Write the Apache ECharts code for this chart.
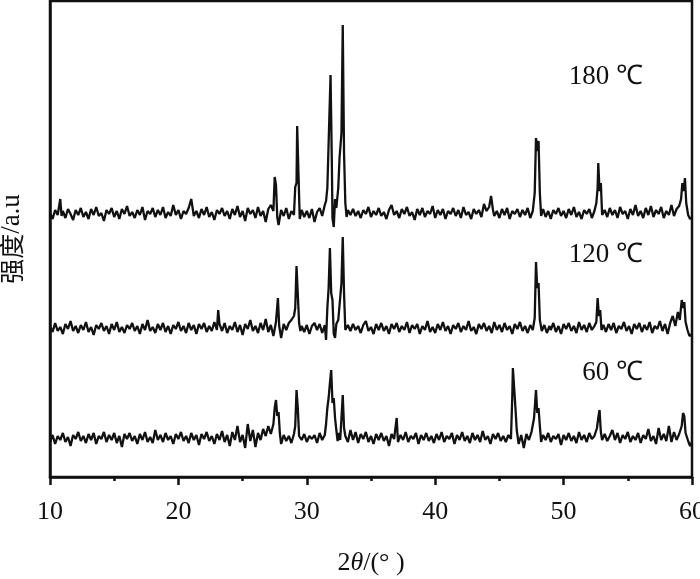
<!DOCTYPE html>
<html>
<head>
<meta charset="utf-8">
<title>XRD</title>
<script src="https://cdn.jsdelivr.net/npm/echarts@6/dist/echarts.min.js"></script>
<style>
  html, body { margin: 0; padding: 0; background: #fff; }
  #xrdChart { width: 700px; height: 579px; }
</style>
</head>
<body>
<div id="xrdChart"></div>
<script>
// 2θ / 强度 (读图估计, 每条曲线相对于自身基线)
var xrd180 = [
  [10.0,0],[10.2,-6],[10.4,3],[10.6,-2],[10.8,14],[10.9,-3],[11.0,2],[11.2,-5],[11.4,4],[11.6,-1],[11.8,-7],
  [12.0,3],[12.2,-2],[12.4,5],[12.6,-4],[12.8,1],[13.0,-6],[13.2,4],[13.4,-2],[13.6,6],[13.8,-3],
  [14.0,0],[14.2,-8],[14.4,3],[14.6,-1],[14.8,5],[15.0,-4],[15.2,2],[15.4,-6],[15.6,4],[15.8,-1],
  [16.0,7],[16.2,-3],[16.4,1],[16.6,-5],[16.8,3],[17.0,-2],[17.2,6],[17.4,-7],[17.6,2],[17.8,-1],
  [18.0,5],[18.2,-4],[18.4,3],[18.6,-2],[18.8,6],[19.0,-5],[19.2,1],[19.4,-3],[19.6,8],[19.8,-2],
  [20.0,3],[20.2,-6],[20.4,2],[20.6,-1],[20.8,5],[21.0,14],[21.2,-3],[21.4,2],[21.6,-5],[21.8,4],
  [22.0,-2],[22.2,6],[22.4,-4],[22.6,1],[22.8,-7],[23.0,3],[23.2,-1],[23.4,5],[23.6,-3],[23.8,2],
  [24.0,-6],[24.2,4],[24.4,-2],[24.6,7],[24.8,-4],[25.0,2],[25.2,-8],[25.4,5],[25.6,-1],[25.8,3],
  [26.0,-5],[26.2,6],[26.4,-3],[26.6,2],[26.8,-9],[27.0,4],[27.2,8],[27.4,2],[27.5,36],[27.6,28],
  [27.7,-4],[27.8,-12],[28.0,3],[28.2,-3],[28.4,5],[28.6,-6],[28.8,2],[29.0,-2],[29.1,26],[29.2,30],
  [29.25,87],[29.35,40],[29.45,-6],[29.6,3],[29.8,-4],[30.0,2],[30.2,-5],[30.4,4],[30.6,-9],[30.8,1],
  [31.0,5],[31.2,-3],[31.4,8],[31.5,12],[31.6,25],[31.7,70],[31.85,138],[31.95,50],[32.0,-5],[32.1,-14],
  [32.2,14],[32.3,5],[32.45,25],[32.55,55],[32.7,80],[32.8,188],[32.9,60],[33.0,10],[33.1,-4],[33.2,3],
  [33.4,-2],[33.6,4],[33.8,-3],[34.0,2],[34.2,-5],[34.4,3],[34.6,-1],[34.8,6],[35.0,-4],[35.2,2],
  [35.4,-2],[35.6,5],[35.8,-3],[36.0,1],[36.2,-6],[36.4,3],[36.6,8],[36.8,-2],[37.0,2],[37.2,-5],
  [37.4,4],[37.6,-1],[37.8,6],[38.0,-3],[38.2,1],[38.4,-7],[38.6,4],[38.8,-2],[39.0,5],[39.2,-4],
  [39.4,2],[39.6,-1],[39.8,7],[40.0,-5],[40.2,3],[40.4,-2],[40.6,4],[40.8,-6],[41.0,2],[41.2,-1],
  [41.4,5],[41.6,-3],[41.8,3],[42.0,-5],[42.2,6],[42.4,-2],[42.6,1],[42.8,-6],[43.0,4],[43.2,-1],
  [43.4,3],[43.6,-4],[43.8,9],[44.0,2],[44.2,6],[44.35,17],[44.5,3],[44.6,-3],[44.8,2],[45.0,-5],
  [45.2,4],[45.4,-2],[45.6,5],[45.8,-6],[46.0,2],[46.2,-1],[46.4,4],[46.6,-4],[46.8,3],[47.0,-2],
  [47.2,5],[47.4,-5],[47.6,2],[47.75,20],[47.85,75],[47.95,62],[48.05,72],[48.15,20],[48.25,-3],[48.4,4],
  [48.6,-4],[48.8,2],[49.0,-6],[49.2,3],[49.4,-1],[49.6,5],[49.8,-3],[50.0,2],[50.2,-5],[50.4,4],
  [50.6,-2],[50.8,6],[51.0,-4],[51.2,1],[51.4,-6],[51.6,3],[51.8,-1],[52.0,4],[52.2,-5],[52.4,2],
  [52.55,10],[52.65,25],[52.7,50],[52.8,22],[52.9,30],[53.0,-2],[53.2,3],[53.4,-4],[53.6,5],[53.8,-2],
  [54.0,3],[54.2,-5],[54.4,6],[54.6,-1],[54.8,2],[55.0,-6],[55.2,4],[55.4,-2],[55.6,8],[55.8,-3],
  [56.0,2],[56.2,-5],[56.4,5],[56.6,-2],[56.8,7],[57.0,-4],[57.2,3],[57.4,-1],[57.6,6],[57.8,-5],
  [58.0,2],[58.2,-2],[58.4,8],[58.6,-3],[58.8,4],[59.0,7],[59.15,14],[59.25,30],[59.35,22],[59.45,35],
  [59.55,10],[59.7,-2],[59.85,-6],[60.0,-4]
];

var xrd120 = [
  [10.0,2],[10.2,-4],[10.4,5],[10.6,-3],[10.8,1],[11.0,-6],[11.2,4],[11.4,-1],[11.6,7],[11.8,-3],
  [12.0,2],[12.2,-5],[12.4,3],[12.6,-2],[12.8,6],[13.0,-4],[13.2,1],[13.4,-7],[13.6,3],[13.8,-1],
  [14.0,5],[14.2,-3],[14.4,2],[14.6,-6],[14.8,4],[15.0,-2],[15.2,6],[15.4,-4],[15.6,1],[15.8,-5],
  [16.0,3],[16.2,-1],[16.4,5],[16.6,-3],[16.8,2],[17.0,-6],[17.2,4],[17.4,-2],[17.6,8],[17.8,-3],
  [18.0,1],[18.2,-5],[18.4,4],[18.6,-2],[18.8,5],[19.0,-4],[19.2,2],[19.4,-6],[19.6,3],[19.8,-1],
  [20.0,6],[20.2,-3],[20.4,2],[20.6,-5],[20.8,5],[21.0,-2],[21.2,3],[21.4,-6],[21.6,4],[21.8,-1],
  [22.0,5],[22.2,-4],[22.4,2],[22.6,-3],[22.8,6],[23.0,-2],[23.1,18],[23.2,4],[23.4,-3],[23.6,5],
  [23.8,-5],[24.0,2],[24.2,-2],[24.4,6],[24.6,-4],[24.8,3],[25.0,-7],[25.2,4],[25.4,-1],[25.6,8],
  [25.8,-3],[26.0,2],[26.2,-5],[26.4,5],[26.6,-2],[26.8,9],[27.0,-4],[27.2,3],[27.4,-8],[27.6,6],
  [27.75,30],[27.85,2],[28.0,-10],[28.2,4],[28.4,-2],[28.6,5],[28.8,8],[29.0,12],[29.1,20],[29.2,62],
  [29.3,60],[29.4,5],[29.5,-3],[29.6,2],[29.8,-4],[30.0,3],[30.2,-6],[30.4,2],[30.6,5],[30.8,-2],
  [31.0,4],[31.2,-5],[31.4,3],[31.5,-12],[31.6,20],[31.7,40],[31.8,80],[31.9,35],[32.0,28],[32.1,-6],
  [32.2,-10],[32.3,4],[32.45,8],[32.6,30],[32.7,45],[32.8,91],[32.9,35],[33.0,-2],[33.2,3],[33.4,-3],
  [33.6,4],[33.8,-2],[34.0,2],[34.2,-5],[34.4,3],[34.6,7],[34.8,-3],[35.0,1],[35.2,-6],[35.4,4],
  [35.6,-2],[35.8,5],[36.0,-3],[36.2,2],[36.4,-6],[36.6,4],[36.8,-1],[37.0,5],[37.2,-4],[37.4,2],
  [37.6,-2],[37.8,6],[38.0,-5],[38.2,3],[38.4,-1],[38.6,4],[38.8,-6],[39.0,2],[39.2,-2],[39.4,7],
  [39.6,-4],[39.8,1],[40.0,-5],[40.2,4],[40.4,-2],[40.6,6],[40.8,-3],[41.0,2],[41.2,-6],[41.4,3],
  [41.6,-1],[41.8,5],[42.0,-4],[42.2,2],[42.4,-2],[42.6,7],[42.8,-3],[43.0,1],[43.2,-6],[43.4,4],
  [43.6,-1],[43.8,5],[44.0,-3],[44.2,2],[44.4,-5],[44.6,6],[44.8,-2],[45.0,3],[45.2,-4],[45.4,5],
  [45.6,-2],[45.8,2],[46.0,-6],[46.2,4],[46.4,-1],[46.6,6],[46.8,-3],[47.0,2],[47.2,-5],[47.4,3],
  [47.6,-2],[47.75,10],[47.85,66],[47.95,40],[48.05,45],[48.15,8],[48.3,-3],[48.5,3],[48.7,-5],[48.9,2],
  [49.0,-2],[49.2,5],[49.4,-4],[49.6,2],[49.8,-6],[50.0,4],[50.2,-1],[50.4,5],[50.6,-3],[50.8,2],
  [51.0,-5],[51.2,6],[51.4,-2],[51.6,3],[51.8,-4],[52.0,5],[52.2,-2],[52.4,2],[52.55,6],[52.65,30],
  [52.75,12],[52.85,18],[52.95,-2],[53.1,3],[53.3,-4],[53.5,4],[53.7,-2],[53.9,5],[54.1,-5],[54.3,2],
  [54.5,-1],[54.7,6],[54.9,-3],[55.1,2],[55.3,-6],[55.5,4],[55.7,-1],[55.9,5],[56.1,-4],[56.3,3],
  [56.5,-2],[56.7,6],[56.9,-5],[57.1,2],[57.3,-1],[57.5,7],[57.7,-3],[57.9,4],[58.1,-6],[58.3,5],
  [58.5,12],[58.7,2],[58.9,16],[59.05,8],[59.2,28],[59.3,20],[59.4,26],[59.5,6],[59.65,-2],[59.8,-8],
  [60.0,-6]
];

var xrd60 = [
  [10.0,-4],[10.2,3],[10.4,-6],[10.6,2],[10.8,-2],[11.0,5],[11.2,-4],[11.4,1],[11.6,-8],[11.8,3],
  [12.0,-1],[12.2,6],[12.4,-3],[12.6,2],[12.8,-5],[13.0,4],[13.2,-2],[13.4,5],[13.6,-6],[13.8,2],
  [14.0,-1],[14.2,6],[14.4,-4],[14.6,3],[14.8,-2],[15.0,5],[15.2,-5],[15.4,2],[15.6,-9],[15.8,4],
  [16.0,-1],[16.2,5],[16.4,-3],[16.6,2],[16.8,-6],[17.0,4],[17.2,-2],[17.4,6],[17.6,-4],[17.8,1],
  [18.0,-5],[18.2,8],[18.4,-2],[18.6,3],[18.8,-4],[19.0,5],[19.2,-2],[19.4,2],[19.6,-6],[19.8,4],
  [20.0,-1],[20.2,6],[20.4,-3],[20.6,2],[20.8,-5],[21.0,5],[21.2,-2],[21.4,3],[21.6,-7],[21.8,4],
  [22.0,-1],[22.2,6],[22.4,-3],[22.6,2],[22.8,-6],[23.0,4],[23.2,-2],[23.4,7],[23.6,-4],[23.8,3],
  [24.0,-8],[24.2,6],[24.4,-2],[24.6,12],[24.8,-4],[25.0,3],[25.2,-10],[25.4,14],[25.6,-3],[25.8,8],
  [26.0,-9],[26.2,5],[26.4,-2],[26.6,9],[26.8,2],[27.0,12],[27.2,4],[27.4,14],[27.5,30],[27.6,38],
  [27.7,22],[27.8,26],[27.9,5],[28.0,-6],[28.2,3],[28.4,-3],[28.6,2],[28.8,-5],[29.0,4],[29.1,12],
  [29.2,48],[29.3,30],[29.4,2],[29.6,-2],[29.8,4],[30.0,-4],[30.2,2],[30.4,-1],[30.6,3],[30.8,-5],
  [31.0,5],[31.2,-2],[31.4,3],[31.5,14],[31.6,30],[31.7,40],[31.8,55],[31.9,68],[32.0,35],[32.1,40],
  [32.2,20],[32.3,8],[32.4,-3],[32.5,5],[32.6,-2],[32.7,20],[32.8,43],[32.9,10],[33.0,2],[33.2,-4],
  [33.4,8],[33.6,-2],[33.8,6],[34.0,-5],[34.2,4],[34.4,-1],[34.6,6],[34.8,-4],[35.0,2],[35.2,-6],
  [35.4,4],[35.6,-2],[35.8,5],[36.0,-3],[36.2,2],[36.4,-8],[36.6,4],[36.8,-1],[37.0,20],[37.1,-4],
  [37.3,3],[37.5,-2],[37.7,6],[37.9,-4],[38.1,2],[38.3,-1],[38.5,5],[38.7,-6],[38.9,3],[39.1,-2],
  [39.3,5],[39.5,-3],[39.7,2],[39.9,-5],[40.1,4],[40.3,-2],[40.5,6],[40.7,-4],[40.9,2],[41.1,-1],
  [41.3,5],[41.5,-6],[41.7,3],[41.9,-2],[42.1,6],[42.3,-3],[42.5,2],[42.7,-5],[42.9,5],[43.1,-2],
  [43.3,3],[43.5,-4],[43.7,7],[43.9,-2],[44.1,2],[44.3,-6],[44.5,4],[44.7,-1],[44.9,5],[45.1,-3],
  [45.3,2],[45.5,-4],[45.7,3],[45.9,-1],[46.0,40],[46.05,70],[46.15,50],[46.25,30],[46.35,8],[46.5,-6],
  [46.7,3],[46.9,-10],[47.1,4],[47.3,-2],[47.5,6],[47.7,20],[47.85,48],[47.95,25],[48.05,30],[48.15,12],
  [48.25,-4],[48.4,3],[48.6,-2],[48.8,5],[49.0,-4],[49.2,2],[49.4,-1],[49.6,4],[49.8,-7],[50.0,3],
  [50.2,-2],[50.4,5],[50.6,-3],[50.8,2],[51.0,-5],[51.2,6],[51.4,-2],[51.6,3],[51.8,-4],[52.0,5],
  [52.2,-1],[52.4,2],[52.6,10],[52.7,20],[52.8,28],[52.9,6],[53.0,-2],[53.2,4],[53.4,-3],[53.6,2],
  [53.8,8],[54.0,-2],[54.2,5],[54.4,-5],[54.6,3],[54.8,-1],[55.0,6],[55.2,-4],[55.4,2],[55.6,-2],
  [55.8,5],[56.0,-5],[56.2,3],[56.4,-1],[56.6,9],[56.8,-3],[57.0,2],[57.2,-6],[57.4,10],[57.6,-2],
  [57.8,4],[58.0,-3],[58.2,12],[58.4,-4],[58.6,6],[58.8,-2],[59.0,4],[59.2,12],[59.3,25],[59.4,22],
  [59.5,5],[59.7,-3],[59.85,-8],[60.0,-4]
];

// 各曲线的竖直偏移 (堆叠显示)
var offsets = [264, 149, 39];
var tempLabels = ['180 ℃', '120 ℃', '60 ℃'];

function shift(arr, dy) {
  return arr.map(function (p) { return [p[0], p[1] + dy]; });
}

var myChart = echarts.init(document.getElementById('xrdChart'));
var serif = 'Liberation Serif, Times New Roman, serif';
var lineColor = '#111';

var option = {
  backgroundColor: '#fff',
  animation: false,
  grid: {
    left: 50, right: 8, top: 1, bottom: 102,
    outerBoundsMode: 'none',
    containLabel: false,
    show: true,
    borderColor: '#111',
    borderWidth: 2.5
  },
  xAxis: {
    type: 'value',
    min: 10,
    max: 60,
    interval: 10,
    axisLine: { show: true, lineStyle: { color: '#111', width: 2.5 } },
    axisTick: { show: true, inside: false, length: 8, lineStyle: { color: '#111', width: 2.5 } },
    minorTick: { show: true, splitNumber: 2, length: 4, lineStyle: { color: '#111', width: 2.5 } },
    splitLine: { show: false },
    axisLabel: { color: '#111', fontFamily: serif, fontSize: 26, margin: 22 },
    name: '{n|2}{t|θ}{n|/(° )}',
    nameLocation: 'middle',
    nameGap: 73,
    nameTextStyle: {
      rich: {
        n: { fontFamily: serif, fontSize: 26, color: '#111' },
        t: { fontFamily: serif, fontSize: 26, fontStyle: 'italic', color: '#111' }
      }
    }
  },
  yAxis: {
    type: 'value',
    min: 0,
    max: 476,
    axisLine: { show: true, lineStyle: { color: '#111', width: 2.5 } },
    axisTick: { show: false },
    axisLabel: { show: false },
    splitLine: { show: false },
    name: '{c|强度}{l|/a.u}',
    nameLocation: 'middle',
    nameGap: 25,
    nameTextStyle: {
      rich: {
        c: { fontFamily: 'Noto Sans CJK SC', fontSize: 25, color: '#111' },
        l: { fontFamily: serif, fontSize: 27, color: '#111' }
      }
    }
  },
  graphic: [
    { type: 'text', x: 643, y: 77, style: { text: tempLabels[0], fill: '#111', font: '27px ' + serif, align: 'right', verticalAlign: 'middle' } },
    { type: 'text', x: 643, y: 255, style: { text: tempLabels[1], fill: '#111', font: '27px ' + serif, align: 'right', verticalAlign: 'middle' } },
    { type: 'text', x: 643, y: 373, style: { text: tempLabels[2], fill: '#111', font: '27px ' + serif, align: 'right', verticalAlign: 'middle' } }
  ],
  series: [
    { name: '180', type: 'line', data: shift(xrd180, offsets[0]), symbol: 'none', lineStyle: { color: lineColor, width: 2.3 } },
    { name: '120', type: 'line', data: shift(xrd120, offsets[1]), symbol: 'none', lineStyle: { color: lineColor, width: 2.3 } },
    { name: '60', type: 'line', data: shift(xrd60, offsets[2]), symbol: 'none', lineStyle: { color: lineColor, width: 2.3 } }
  ]
};

myChart.setOption(option, true);
</script>
</body>
</html>
